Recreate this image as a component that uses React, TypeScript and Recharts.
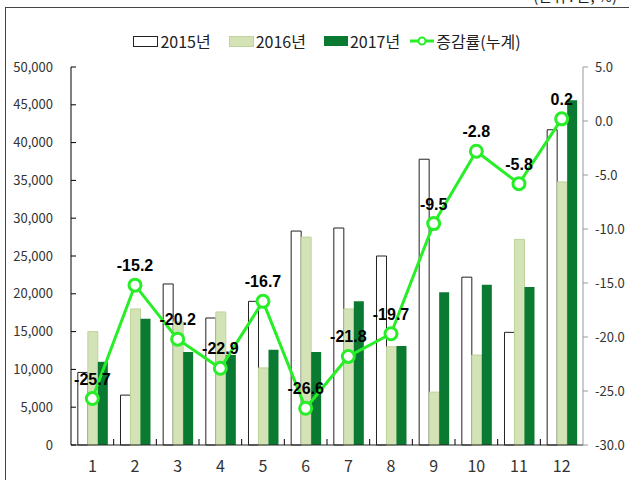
import React from 'react';
import { ComposedChart, Bar, Line, XAxis, YAxis, LabelList } from 'recharts';

const months = ['1', '2', '3', '4', '5', '6', '7', '8', '9', '10', '11', '12'];
const y2015 = [9600, 6600, 21300, 16800, 19000, 28300, 28700, 25000, 37800, 22200, 14900, 41700];
const y2016 = [15000, 18000, 16300, 17600, 10200, 27500, 18000, 13000, 7000, 11900, 27200, 34800];
const y2017 = [11000, 16700, 12300, 11900, 12600, 12300, 19000, 13100, 20200, 21200, 20900, 45600];
const rate = [-25.7, -15.2, -20.2, -22.9, -16.7, -26.6, -21.8, -19.7, -9.5, -2.8, -5.8, 0.2];
const leftTicks = [0, 5000, 10000, 15000, 20000, 25000, 30000, 35000, 40000, 45000, 50000];
const rightTicks = [-30, -25, -20, -15, -10, -5, 0, 5];
const seriesNames = ['2015년', '2016년', '2017년', '증감률(누계)'];
const unitText = '(단위 : 톤, %)';

const data = months.map((m, i) => ({
  month: m,
  a: y2015[i],
  b: y2016[i],
  c: y2017[i],
  rate: rate[i],
}));

const LINE = '#28ee28';
const C2016 = '#d3e3b6';
const C2016S = '#bfd39c';
const C2017 = '#0a7a32';
const FONT = '"Noto Sans CJK KR", "Noto Sans", sans-serif';

const LEFT_TS = 6;
const LEFT_TM = 12;

const LeftTick = (props: any) => {
  const { x, y, payload } = props;
  const axisX = x + LEFT_TS + LEFT_TM;
  return (
    <g>
      <text x={x} y={y} dy="0.35em" textAnchor="end" fontSize={13} fill="#333" fontFamily={FONT}>
        {Number(payload.value).toLocaleString('en-US')}
      </text>
      <line x1={axisX} x2={axisX + 5} y1={y} y2={y} stroke="#000" strokeWidth={1} />
    </g>
  );
};

const X_TS = 6;
const X_TM = 10;

const BottomTick = (props: any) => {
  const { x, y, payload, index, width, visibleTicksCount } = props;
  const count = visibleTicksCount || months.length;
  const w = typeof width === 'number' && width > 0 ? width : 512;
  const band = w / count;
  const axisY = y - X_TS - X_TM;
  const bx = x + band / 2;
  return (
    <g>
      <text x={x} y={y} dy="0.71em" textAnchor="middle" fontSize={16} fill="#333" fontFamily={FONT}>
        {payload.value}
      </text>
      {index < count - 1 && (
        <line x1={bx} x2={bx} y1={axisY} y2={axisY - 6} stroke="#000" strokeWidth={1} />
      )}
    </g>
  );
};

const LegendRow = () => (
  <div
    style={{
      position: 'absolute',
      top: 32,
      left: 71,
      width: 512,
      height: 18,
      display: 'flex',
      justifyContent: 'center',
      alignItems: 'center',
      fontSize: 16,
      color: '#222',
      fontFamily: FONT,
      lineHeight: '18px',
      whiteSpace: 'nowrap',
    }}
  >
    <span style={{ display: 'inline-block', width: 23, height: 9, border: '1px solid #222', background: '#fff', marginRight: 2 }} />
    <span style={{ marginRight: 18 }}>{seriesNames[0]}</span>
    <span style={{ display: 'inline-block', width: 23, height: 9, border: `1px solid ${C2016S}`, background: C2016, marginRight: 2 }} />
    <span style={{ marginRight: 18 }}>{seriesNames[1]}</span>
    <span style={{ display: 'inline-block', width: 24, height: 10, background: C2017, marginRight: 2 }} />
    <span style={{ marginRight: 10 }}>{seriesNames[2]}</span>
    <svg width={24} height={12} style={{ marginRight: 2 }}>
      <line x1={0} x2={24} y1={6} y2={6} stroke={LINE} strokeWidth={3} />
      <circle cx={12} cy={6} r={3.5} fill="#fff" stroke={LINE} strokeWidth={2} />
    </svg>
    <span>{seriesNames[3]}</span>
  </div>
);

export default function App() {
  return (
    <div
      style={{
        position: 'absolute',
        left: 0,
        top: 0,
        width: 629,
        height: 480,
        overflow: 'hidden',
        background: '#fff',
        fontFamily: FONT,
      }}
    >
      <div
        style={{
          position: 'absolute',
          left: 5,
          top: 7,
          width: 700,
          height: 600,
          border: '1px solid #444',
        }}
      />
      <div
        style={{
          position: 'absolute',
          right: 12,
          top: -12,
          fontSize: 15,
          lineHeight: '16px',
          color: '#222',
          fontFamily: FONT,
          whiteSpace: 'nowrap',
        }}
      >
        {unitText}
      </div>
      <LegendRow />
      <div style={{ position: 'absolute', left: 0, top: 0 }}>
        <ComposedChart
          width={629}
          height={480}
          data={data}
          margin={{ top: 67, right: 0, bottom: 0, left: 0 }}
          barCategoryGap="16%"
          barGap={0}
        >
          <XAxis
            dataKey="month"
            height={35}
            interval={0}
            axisLine={{ stroke: '#222' }}
            tickLine={false}
            tickSize={X_TS}
            tickMargin={X_TM}
            tick={<BottomTick />}
          />
          <YAxis
            yAxisId="left"
            width={71}
            domain={[0, 50000]}
            ticks={leftTicks}
            interval={0}
            axisLine={{ stroke: '#000' }}
            tickLine={false}
            tickSize={LEFT_TS}
            tickMargin={LEFT_TM}
            tick={<LeftTick />}
          />
          <YAxis
            yAxisId="right"
            orientation="right"
            width={46}
            domain={[-30, 5]}
            ticks={rightTicks}
            interval={0}
            axisLine={{ stroke: '#999' }}
            tickLine={{ stroke: '#999' }}
            tickSize={5}
            tickMargin={7}
            tick={{ fontSize: 13, fill: '#333', fontFamily: FONT }}
            tickFormatter={(v: number) => v.toFixed(1)}
          />
          <Bar yAxisId="left" dataKey="a" name={seriesNames[0]} fill="#fff" stroke="#222" strokeWidth={1} isAnimationActive={false} />
          <Bar yAxisId="left" dataKey="b" name={seriesNames[1]} fill={C2016} stroke={C2016S} strokeWidth={1} isAnimationActive={false} />
          <Bar yAxisId="left" dataKey="c" name={seriesNames[2]} fill={C2017} isAnimationActive={false} />
          <Line
            yAxisId="right"
            dataKey="rate"
            name={seriesNames[3]}
            stroke={LINE}
            strokeWidth={3}
            dot={{ r: 6, fill: '#fff', stroke: LINE, strokeWidth: 3 }}
            activeDot={false}
            isAnimationActive={false}
          >
            <LabelList
              dataKey="rate"
              position="top"
              offset={14}
              fill="#000"
              fontSize={16}
              fontWeight="bold"
              fontFamily='"Liberation Sans", Arial, sans-serif'
              formatter={(v: any) => Number(v).toFixed(1)}
            />
          </Line>
        </ComposedChart>
      </div>
    </div>
  );
}
